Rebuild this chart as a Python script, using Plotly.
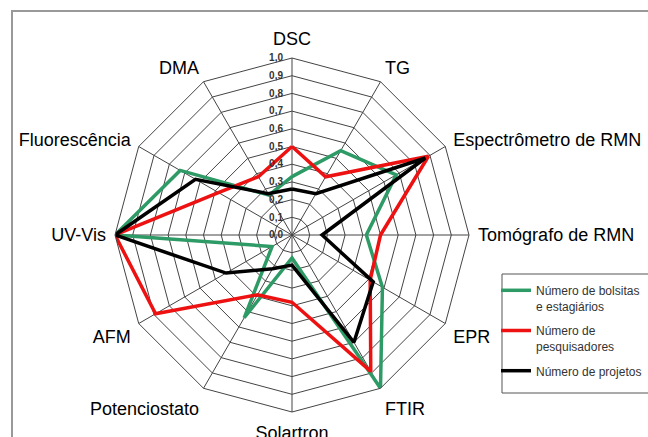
import plotly.graph_objects as go

categories = ["DSC", "TG", "Espectrômetro de RMN", "Tomógrafo de RMN", "EPR", "FTIR",
              "Solartron", "Potenciostato", "AFM", "UV-Vis", "Fluorescência", "DMA"]
bolsistas = [0.33, 0.55, 0.68, 0.42, 0.59, 1.0, 0.13, 0.54, 0.13, 1.0, 0.73, 0.26]
pesquisadores = [0.50, 0.38, 0.89, 0.50, 0.51, 0.89, 0.38, 0.39, 0.89, 1.0, 0.48, 0.38]
projetos = [0.26, 0.27, 0.87, 0.17, 0.53, 0.70, 0.17, 0.22, 0.43, 1.0, 0.63, 0.27]
series_names = ["Número de bolsitas<br>e estagiários", "Número de<br>pesquisadores", "Número de projetos"]
radial_ticks = [0.0, 0.1, 0.2, 0.3, 0.4, 0.5, 0.6, 0.7, 0.8, 0.9, 1.0]

colors = ["#2E9A66", "#EE1111", "#000000"]

fig = go.Figure()
for i, (vals, name, col) in enumerate(zip([bolsistas, pesquisadores, projetos], series_names, colors)):
    fig.add_trace(go.Scatterpolar(
        r=vals + vals[:1], theta=categories + categories[:1],
        mode="lines", name=name, legendgroup=f"g{i}",
        line=dict(color=col, width=3.5),
    ))

W, H = 648, 437
cx, cy, R = 292, 235, 177
fig.update_layout(
    width=W, height=H,
    margin=dict(l=0, r=0, t=0, b=0, autoexpand=False),
    paper_bgcolor="white",
    separators=",.",
    font=dict(family="Liberation Sans, Arial, sans-serif", color="#000"),
    polar=dict(
        domain=dict(x=[(cx - R) / W, (cx + R) / W],
                    y=[(H - cy - R) / H, (H - cy + R) / H]),
        gridshape="linear",
        bgcolor="white",
        radialaxis=dict(
            range=[0, 1], tickvals=radial_ticks, tickformat=".1f",
            angle=90, tickangle=90, side="counterclockwise", showline=False,
            ticks="outside", ticklen=5, tickcolor="rgba(0,0,0,0)",
            gridcolor="#444", gridwidth=1,
            tickfont=dict(size=10, color="#333", weight="bold",
                          family="Liberation Sans Narrow, Arial Narrow, sans-serif"),
        ),
        angularaxis=dict(
            rotation=90, direction="clockwise",
            showline=True, linecolor="#444", linewidth=1,
            gridcolor="#444", gridwidth=1,
            ticks="outside", ticklen=5, tickcolor="rgba(0,0,0,0)",
            tickfont=dict(size=18, color="#000"),
        ),
    ),
    legend=dict(
        x=496 / W, y=(H - 276) / H, xanchor="left", yanchor="top",
        bgcolor="rgba(0,0,0,0)", borderwidth=0,
        font=dict(size=12, color="#333"), itemwidth=30, valign="top",
        tracegroupgap=6, traceorder="grouped",
    ),
    shapes=[
        dict(type="rect", xref="paper", yref="paper",
             x0=12 / W, x1=1.05, y0=-0.05, y1=(H - 11) / H,
             line=dict(color="#999", width=2)),
        dict(type="rect", xref="paper", yref="paper", layer="below",
             x0=502 / W, x1=1.05, y0=(H - 393) / H, y1=(H - 274) / H,
             line=dict(color="#555", width=1), fillcolor="white"),
    ],
)

fig.write_html("out.html", config={"displayModeBar": False},
               post_script="document.body.style.margin='0';document.body.style.overflow='hidden';")
